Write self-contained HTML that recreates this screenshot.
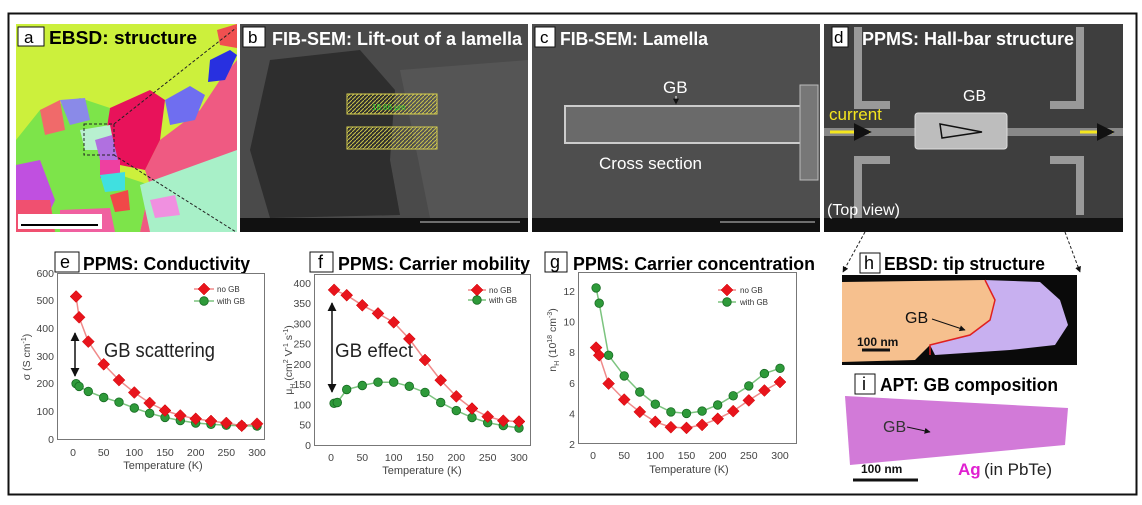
<!DOCTYPE html>
<html><head><meta charset="utf-8"><style>
html,body{margin:0;padding:0;background:#fff;}
svg{display:block;font-family:"Liberation Sans",sans-serif;}
.t{font-weight:bold;font-size:18px;}
.tk{font-size:10.5px;fill:#444;}
.lg{font-size:8px;fill:#333;}
</style></head><body>
<svg width="1142" height="505" viewBox="0 0 1142 505" xmlns="http://www.w3.org/2000/svg">
<defs>
<path id="dm" d="M0,-6 L6,0 L0,6 L-6,0Z" fill="#e8141c" stroke="#c00" stroke-width="0.5"/>
<circle id="ci" r="4.3" fill="#2e9a3a" stroke="#176b22" stroke-width="0.8"/>
<marker id="ah" viewBox="0 0 10 10" refX="9" refY="5" markerWidth="6" markerHeight="6" orient="auto-start-reverse"><path d="M0,0 L10,5 L0,10Z" fill="#111"/></marker>
<pattern id="hatch" width="4" height="4" patternUnits="userSpaceOnUse"><path d="M0,4 L4,0" stroke="#c9c34a" stroke-width="1"/></pattern>
</defs>
<rect width="1142" height="505" fill="#fff"/>
<rect x="8.5" y="13.5" width="1128" height="481" fill="none" stroke="#111" stroke-width="2"/>

<!-- panel a -->
<g>
<rect x="16" y="24" width="221" height="208" fill="#ccf03c"/>
<path d="M237,24 L237,232 L140,232 L150,185 L145,170 L160,140 L200,110 L220,80 L237,60Z" fill="#ef5a82"/>
<path d="M16,140 L40,110 L80,98 L110,108 L105,150 L120,175 L150,185 L140,232 L16,232Z" fill="#7de44a"/>
<path d="M110,108 L150,90 L165,100 L160,140 L145,170 L120,165 L105,140Z" fill="#e8125a"/>
<path d="M165,100 L190,86 L205,95 L195,120 L170,125Z" fill="#6f6ef0"/>
<path d="M210,60 L230,50 L237,55 L225,80 L208,82Z" fill="#2830e0"/>
<path d="M217,30 L237,24 L237,48 L220,45Z" fill="#f05050"/>
<path d="M40,110 L60,100 L65,130 L45,135Z" fill="#f06a6a"/>
<path d="M60,100 L85,98 L90,120 L70,125Z" fill="#8a8ae8"/>
<path d="M16,165 L40,160 L55,200 L40,232 L16,232Z" fill="#c050e0"/>
<path d="M16,200 L50,200 L55,232 L16,232Z" fill="#f05070"/>
<path d="M80,130 L110,125 L115,150 L85,150Z" fill="#b8f0d0"/>
<path d="M140,185 L237,150 L237,232 L150,232Z" fill="#a8f0c8"/>
<path d="M95,140 L112,135 L118,160 L100,160Z" fill="#b070e0"/>
<path d="M100,160 L120,160 L120,180 L100,178Z" fill="#ee40a0"/>
<path d="M100,175 L125,172 L125,190 L105,192Z" fill="#40e0e0"/>
<path d="M110,195 L128,190 L130,210 L115,212Z" fill="#f04848"/>
<path d="M60,210 L110,208 L115,232 L60,232Z" fill="#f060a0"/>
<path d="M150,200 L175,195 L180,215 L155,218Z" fill="#f090e0"/>
<rect x="84" y="124" width="30" height="31" fill="none" stroke="#222" stroke-dasharray="3,2"/>
<line x1="114" y1="124" x2="236" y2="28" stroke="#222" stroke-dasharray="3,2"/>
<line x1="114" y1="155" x2="236" y2="232" stroke="#222" stroke-dasharray="3,2"/>
<rect x="18" y="214" width="84" height="15" fill="#fff"/>
<line x1="21" y1="225" x2="98" y2="225" stroke="#000" stroke-width="2"/>
<rect x="18" y="27" width="26" height="19" fill="#fff" stroke="#111"/>
<text x="24" y="43" font-size="17">a</text>
<text x="49" y="44" class="t" font-size="19" textLength="148" lengthAdjust="spacingAndGlyphs">EBSD: structure</text>
</g>

<!-- panel b -->
<g>
<rect x="240" y="24" width="288" height="208" fill="#4a4a4a"/>
<path d="M270,60 L360,50 L395,90 L390,160 L400,215 L270,218 L250,150Z" fill="#2e2e2e"/>
<path d="M400,70 L528,60 L528,218 L430,218Z" fill="#555"/>
<rect x="347" y="94" width="90" height="20" fill="url(#hatch)" stroke="#d8d050"/>
<rect x="347" y="127" width="90" height="22" fill="url(#hatch)" stroke="#d8d050"/>
<text x="372" y="110" font-size="8" fill="#3c3">18.66 μm</text>
<rect x="240" y="218" width="288" height="14" fill="#111"/>
<line x1="420" y1="222" x2="520" y2="222" stroke="#ccc"/>
<rect x="243" y="27" width="22" height="20" fill="#fff" stroke="#111"/>
<text x="248" y="43" font-size="17">b</text>
<text x="272" y="45" class="t" font-size="19" fill="#fff" textLength="250" lengthAdjust="spacingAndGlyphs">FIB-SEM: Lift-out of a lamella</text>
</g>

<!-- panel c -->
<g>
<rect x="532" y="24" width="288" height="208" fill="#4e4e4e"/>
<rect x="565" y="106" width="240" height="37" fill="#6a6a6a" stroke="#ccc" stroke-width="2"/>
<rect x="800" y="85" width="18" height="95" fill="#777" stroke="#bbb"/>
<rect x="532" y="218" width="288" height="14" fill="#111"/>
<line x1="720" y1="222" x2="815" y2="222" stroke="#ccc"/>
<rect x="535" y="27" width="20" height="20" fill="#fff" stroke="#111"/>
<text x="540" y="43" font-size="17">c</text>
<text x="560" y="45" class="t" font-size="19" fill="#fff" textLength="148" lengthAdjust="spacingAndGlyphs">FIB-SEM: Lamella</text>
<text x="663" y="93" font-size="17" fill="#fff">GB</text>
<line x1="676" y1="96" x2="676" y2="104" stroke="#fff" marker-end="url(#ah)"/>
<text x="599" y="169" font-size="17" fill="#fff">Cross section</text>
</g>

<!-- panel d -->
<g>
<rect x="824" y="24" width="299" height="208" fill="#3e3e3e"/>
<path d="M858,27 L858,105 L890,105" fill="none" stroke="#999" stroke-width="8"/>
<path d="M1080,27 L1080,105 L1050,105" fill="none" stroke="#999" stroke-width="8"/>
<path d="M858,232 L858,160 L890,160" fill="none" stroke="#999" stroke-width="8"/>
<path d="M1080,215 L1080,160 L1050,160" fill="none" stroke="#999" stroke-width="8"/>
<rect x="824" y="128" width="299" height="8" fill="#888"/>
<rect x="915" y="113" width="92" height="36" rx="3" fill="#bdbdbd" stroke="#ddd"/>
<path d="M940,124 L982,132 L942,138Z" fill="none" stroke="#111" stroke-width="1.5"/>
<line x1="830" y1="132" x2="870" y2="132" stroke="#f5e61e" stroke-width="3" marker-end="url(#ah)"/>
<line x1="1080" y1="132" x2="1113" y2="132" stroke="#f5e61e" stroke-width="3" marker-end="url(#ah)"/>
<text x="829" y="120" font-size="17" fill="#f5e61e">current</text>
<text x="963" y="101" font-size="16" fill="#fff">GB</text>
<rect x="824" y="218" width="299" height="14" fill="#111"/>
<text x="827" y="215" font-size="16" fill="#fff">(Top view)</text>
<rect x="832" y="27" width="16" height="20" fill="#fff" stroke="#111"/>
<text x="834" y="43" font-size="17">d</text>
<text x="862" y="45" class="t" font-size="19" fill="#fff" textLength="212" lengthAdjust="spacingAndGlyphs">PPMS: Hall-bar structure</text>
<line x1="865" y1="232" x2="843" y2="272" stroke="#222" stroke-dasharray="3,2" marker-end="url(#ah)"/>
<line x1="1065" y1="232" x2="1080" y2="272" stroke="#222" stroke-dasharray="3,2" marker-end="url(#ah)"/>
</g>

<!-- chart e -->
<g>
<rect x="55" y="252" width="24" height="20" fill="#fff" stroke="#111"/>
<text x="60" y="268" font-size="18">e</text>
<text x="83" y="270" class="t" textLength="167" lengthAdjust="spacingAndGlyphs">PPMS: Conductivity</text>
<rect x="57.5" y="273.5" width="207" height="166" fill="none" stroke="#777"/>
<g class="tk" text-anchor="end">
<text x="54" y="443">0</text><text x="54" y="415">100</text><text x="54" y="387">200</text><text x="54" y="360">300</text><text x="54" y="332">400</text><text x="54" y="304">500</text><text x="54" y="277">600</text>
</g>
<g class="tk" text-anchor="middle">
<text x="73" y="456">0</text><text x="103.7" y="456">50</text><text x="134.3" y="456">100</text><text x="165" y="456">150</text><text x="195.7" y="456">200</text><text x="226.3" y="456">250</text><text x="257" y="456">300</text>
<text x="163" y="469" font-size="11">Temperature (K)</text>
</g>
<text transform="translate(30,357) rotate(-90)" class="tk" text-anchor="middle">σ (S cm<tspan font-size="7" dy="-4">-1</tspan><tspan dy="4">)</tspan></text>
<polyline fill="none" stroke="#f08a8a" stroke-width="1.5" points="76.1,296.5 79.1,317.3 88.3,341.6 103.7,364.3 119,380.1 134.3,392.5 149.7,403 165,410.5 180.3,415.5 195.7,418.8 211,421 226.3,423 241.7,425.7 257,423.8"/>
<polyline fill="none" stroke="#7cc47f" stroke-width="1.5" points="76.1,383.7 79.1,386.4 88.3,391.4 103.7,397.5 119,402.2 134.3,408 149.7,413.3 165,417.4 180.3,420.5 195.7,423 211,424.3 226.3,425.2 241.7,425.7 257,426"/>
<g>
<use href="#ci" x="76.1" y="383.7"/><use href="#ci" x="79.1" y="386.4"/><use href="#ci" x="88.3" y="391.4"/><use href="#ci" x="103.7" y="397.5"/><use href="#ci" x="119" y="402.2"/><use href="#ci" x="134.3" y="408"/><use href="#ci" x="149.7" y="413.3"/><use href="#ci" x="165" y="417.4"/><use href="#ci" x="180.3" y="420.5"/><use href="#ci" x="195.7" y="423"/><use href="#ci" x="211" y="424.3"/><use href="#ci" x="226.3" y="425.2"/><use href="#ci" x="241.7" y="425.7"/><use href="#ci" x="257" y="426"/>
<use href="#dm" x="76.1" y="296.5"/><use href="#dm" x="79.1" y="317.3"/><use href="#dm" x="88.3" y="341.6"/><use href="#dm" x="103.7" y="364.3"/><use href="#dm" x="119" y="380.1"/><use href="#dm" x="134.3" y="392.5"/><use href="#dm" x="149.7" y="403"/><use href="#dm" x="165" y="410.5"/><use href="#dm" x="180.3" y="415.5"/><use href="#dm" x="195.7" y="418.8"/><use href="#dm" x="211" y="421"/><use href="#dm" x="226.3" y="423"/><use href="#dm" x="241.7" y="425.7"/><use href="#dm" x="257" y="423.8"/>
</g>
<line x1="194" y1="289" x2="214" y2="289" stroke="#f08a8a" stroke-width="1.5"/><use href="#dm" x="204" y="289"/>
<line x1="194" y1="301" x2="214" y2="301" stroke="#7cc47f" stroke-width="1.5"/><use href="#ci" x="204" y="301"/>
<text x="217" y="292" class="lg">no GB</text><text x="217" y="304" class="lg">with GB</text>
<line x1="75" y1="333" x2="75" y2="376" stroke="#111" stroke-width="1.5" marker-start="url(#ah)" marker-end="url(#ah)"/>
<text x="104" y="357" font-size="20" fill="#222" textLength="111" lengthAdjust="spacingAndGlyphs">GB scattering</text>
</g>

<!-- chart f -->
<g>
<rect x="310" y="252" width="23" height="20" fill="#fff" stroke="#111"/>
<text x="318" y="268" font-size="18">f</text>
<text x="338" y="270" class="t" textLength="192" lengthAdjust="spacingAndGlyphs">PPMS: Carrier mobility</text>
<rect x="314.5" y="274.5" width="216" height="171" fill="none" stroke="#777"/>
<g class="tk" text-anchor="end">
<text x="311" y="449">0</text><text x="311" y="428.7">50</text><text x="311" y="408.5">100</text><text x="311" y="388.2">150</text><text x="311" y="368">200</text><text x="311" y="347.7">250</text><text x="311" y="327.5">300</text><text x="311" y="307.2">350</text><text x="311" y="287">400</text>
</g>
<g class="tk" text-anchor="middle">
<text x="331" y="461">0</text><text x="362.3" y="461">50</text><text x="393.7" y="461">100</text><text x="425" y="461">150</text><text x="456.3" y="461">200</text><text x="487.7" y="461">250</text><text x="519" y="461">300</text>
<text x="422" y="474" font-size="11">Temperature (K)</text>
</g>
<text transform="translate(292,360) rotate(-90)" class="tk" text-anchor="middle">μ<tspan font-size="7" dy="3">H</tspan><tspan dy="-3"> (cm</tspan><tspan font-size="7" dy="-4">2</tspan><tspan dy="4"> V</tspan><tspan font-size="7" dy="-4">-1</tspan><tspan dy="4"> s</tspan><tspan font-size="7" dy="-4">-1</tspan><tspan dy="4">)</tspan></text>
<polyline fill="none" stroke="#f08a8a" stroke-width="1.5" points="334.1,289.9 346.7,295.2 362.3,305.3 378,313.4 393.7,322.3 409.3,338.9 425,360 440.7,380.2 456.3,396.4 472,408.5 487.7,416.6 503.3,420.7 519,421.5"/>
<polyline fill="none" stroke="#7cc47f" stroke-width="1.5" points="334.1,403.3 337.3,402.5 346.7,389.5 362.3,385.5 378,382.2 393.7,382.2 409.3,386.3 425,392.4 440.7,402.5 456.3,410.6 472,417.5 487.7,422.7 503.3,425.6 519,428"/>
<g>
<use href="#ci" x="334.1" y="403.3"/><use href="#ci" x="337.3" y="402.5"/><use href="#ci" x="346.7" y="389.5"/><use href="#ci" x="362.3" y="385.5"/><use href="#ci" x="378" y="382.2"/><use href="#ci" x="393.7" y="382.2"/><use href="#ci" x="409.3" y="386.3"/><use href="#ci" x="425" y="392.4"/><use href="#ci" x="440.7" y="402.5"/><use href="#ci" x="456.3" y="410.6"/><use href="#ci" x="472" y="417.5"/><use href="#ci" x="487.7" y="422.7"/><use href="#ci" x="503.3" y="425.6"/><use href="#ci" x="519" y="428"/>
<use href="#dm" x="334.1" y="289.9"/><use href="#dm" x="346.7" y="295.2"/><use href="#dm" x="362.3" y="305.3"/><use href="#dm" x="378" y="313.4"/><use href="#dm" x="393.7" y="322.3"/><use href="#dm" x="409.3" y="338.9"/><use href="#dm" x="425" y="360"/><use href="#dm" x="440.7" y="380.2"/><use href="#dm" x="456.3" y="396.4"/><use href="#dm" x="472" y="408.5"/><use href="#dm" x="487.7" y="416.6"/><use href="#dm" x="503.3" y="420.7"/><use href="#dm" x="519" y="421.5"/>
</g>
<line x1="468" y1="290" x2="486" y2="290" stroke="#f08a8a" stroke-width="1.5"/><use href="#dm" x="477" y="290"/>
<line x1="468" y1="300" x2="486" y2="300" stroke="#7cc47f" stroke-width="1.5"/><use href="#ci" x="477" y="300"/>
<text x="489" y="293" class="lg">no GB</text><text x="489" y="303" class="lg">with GB</text>
<line x1="332" y1="303" x2="332" y2="392" stroke="#111" stroke-width="1.5" marker-start="url(#ah)" marker-end="url(#ah)"/>
<text x="335" y="357" font-size="19" fill="#222" textLength="78" lengthAdjust="spacingAndGlyphs">GB effect</text>
</g>

<!-- chart g -->
<g>
<rect x="545" y="252" width="22" height="20" fill="#fff" stroke="#111"/>
<text x="550" y="268" font-size="18">g</text>
<text x="573" y="270" class="t" textLength="242" lengthAdjust="spacingAndGlyphs">PPMS: Carrier concentration</text>
<rect x="578.5" y="272.5" width="218" height="171" fill="none" stroke="#777"/>
<g class="tk" text-anchor="end">
<text x="575" y="448">2</text><text x="575" y="417.4">4</text><text x="575" y="386.8">6</text><text x="575" y="356.2">8</text><text x="575" y="325.6">10</text><text x="575" y="295">12</text>
</g>
<g class="tk" text-anchor="middle">
<text x="593" y="459">0</text><text x="624.2" y="459">50</text><text x="655.3" y="459">100</text><text x="686.5" y="459">150</text><text x="717.7" y="459">200</text><text x="748.8" y="459">250</text><text x="780" y="459">300</text>
<text x="689" y="473" font-size="11">Temperature (K)</text>
</g>
<text transform="translate(556,340) rotate(-90)" class="tk" text-anchor="middle">n<tspan font-size="7" dy="3">H</tspan><tspan dy="-3"> (10</tspan><tspan font-size="7" dy="-4">18</tspan><tspan dy="4"> cm</tspan><tspan font-size="7" dy="-4">-3</tspan><tspan dy="4">)</tspan></text>
<polyline fill="none" stroke="#f08a8a" stroke-width="1.5" points="596.1,347.6 599.2,355.3 608.6,383.6 624.2,399.6 639.8,411.9 655.3,421.8 670.9,427.2 686.5,427.9 702.1,424.9 717.7,418.8 733.2,411.1 748.8,400.4 764.4,390.5 780,382"/>
<polyline fill="none" stroke="#7cc47f" stroke-width="1.5" points="596.1,287.9 599.2,303.2 608.6,355.3 624.2,375.9 639.8,392 655.3,404.2 670.9,411.9 686.5,413.4 702.1,411.1 717.7,405 733.2,395.8 748.8,385.9 764.4,373.6 780,368.3"/>
<g>
<use href="#dm" x="596.1" y="347.6"/><use href="#dm" x="599.2" y="355.3"/><use href="#dm" x="608.6" y="383.6"/><use href="#dm" x="624.2" y="399.6"/><use href="#dm" x="639.8" y="411.9"/><use href="#dm" x="655.3" y="421.8"/><use href="#dm" x="670.9" y="427.2"/><use href="#dm" x="686.5" y="427.9"/><use href="#dm" x="702.1" y="424.9"/><use href="#dm" x="717.7" y="418.8"/><use href="#dm" x="733.2" y="411.1"/><use href="#dm" x="748.8" y="400.4"/><use href="#dm" x="764.4" y="390.5"/><use href="#dm" x="780" y="382"/>
<use href="#ci" x="596.1" y="287.9"/><use href="#ci" x="599.2" y="303.2"/><use href="#ci" x="608.6" y="355.3"/><use href="#ci" x="624.2" y="375.9"/><use href="#ci" x="639.8" y="392"/><use href="#ci" x="655.3" y="404.2"/><use href="#ci" x="670.9" y="411.9"/><use href="#ci" x="686.5" y="413.4"/><use href="#ci" x="702.1" y="411.1"/><use href="#ci" x="717.7" y="405"/><use href="#ci" x="733.2" y="395.8"/><use href="#ci" x="748.8" y="385.9"/><use href="#ci" x="764.4" y="373.6"/><use href="#ci" x="780" y="368.3"/>
</g>
<line x1="718" y1="290" x2="736" y2="290" stroke="#f08a8a" stroke-width="1.5"/><use href="#dm" x="727" y="290"/>
<line x1="718" y1="302" x2="736" y2="302" stroke="#7cc47f" stroke-width="1.5"/><use href="#ci" x="727" y="302"/>
<text x="740" y="293" class="lg">no GB</text><text x="740" y="305" class="lg">with GB</text>
</g>

<!-- panel h -->
<g>
<rect x="860" y="253" width="20" height="20" fill="#fff" stroke="#111"/>
<text x="864" y="269" font-size="18">h</text>
<text x="884" y="270" class="t" textLength="161" lengthAdjust="spacingAndGlyphs">EBSD: tip structure</text>
<rect x="842" y="275" width="235" height="90" fill="#0a0a0a"/>
<path d="M842,282 L985,280 L995,300 L990,320 L970,335 L930,345 L915,360 L842,362Z" fill="#f6c08e"/>
<path d="M985,280 L1040,282 L1060,300 L1068,325 L1055,345 L1010,350 L935,355 L930,345 L970,335 L990,320 L995,300Z" fill="#c8b0f0"/>
<path d="M985,280 L995,300 L990,320 L970,335 L930,345 L930,355" fill="none" stroke="#e02020" stroke-width="1.5"/>
<text x="905" y="323" font-size="16" fill="#111">GB</text>
<line x1="932" y1="319" x2="965" y2="330" stroke="#111" marker-end="url(#ah)"/>
<text x="857" y="346" font-size="12" font-weight="bold" fill="#111">100 nm</text>
<line x1="862" y1="350" x2="890" y2="350" stroke="#111" stroke-width="3"/>
</g>

<!-- panel i -->
<g>
<rect x="855" y="374" width="20" height="20" fill="#fff" stroke="#111"/>
<text x="862" y="390" font-size="18">i</text>
<text x="880" y="391" class="t" textLength="178" lengthAdjust="spacingAndGlyphs">APT: GB composition</text>
<path d="M845,396 L1068,408 L1065,445 L850,465Z" fill="#d27ad8"/>
<text x="883" y="432" font-size="16" fill="#333">GB</text>
<line x1="907" y1="427" x2="930" y2="432" stroke="#111" marker-end="url(#ah)"/>
<text x="958" y="475" font-size="17" font-weight="bold" fill="#e020d0">Ag</text>
<text x="984" y="475" font-size="17" fill="#222">(in PbTe)</text>
<text x="861" y="473" font-size="12" font-weight="bold" fill="#111">100 nm</text>
<line x1="853" y1="480" x2="918" y2="480" stroke="#111" stroke-width="3"/>
</g>
</svg>
</body></html>
